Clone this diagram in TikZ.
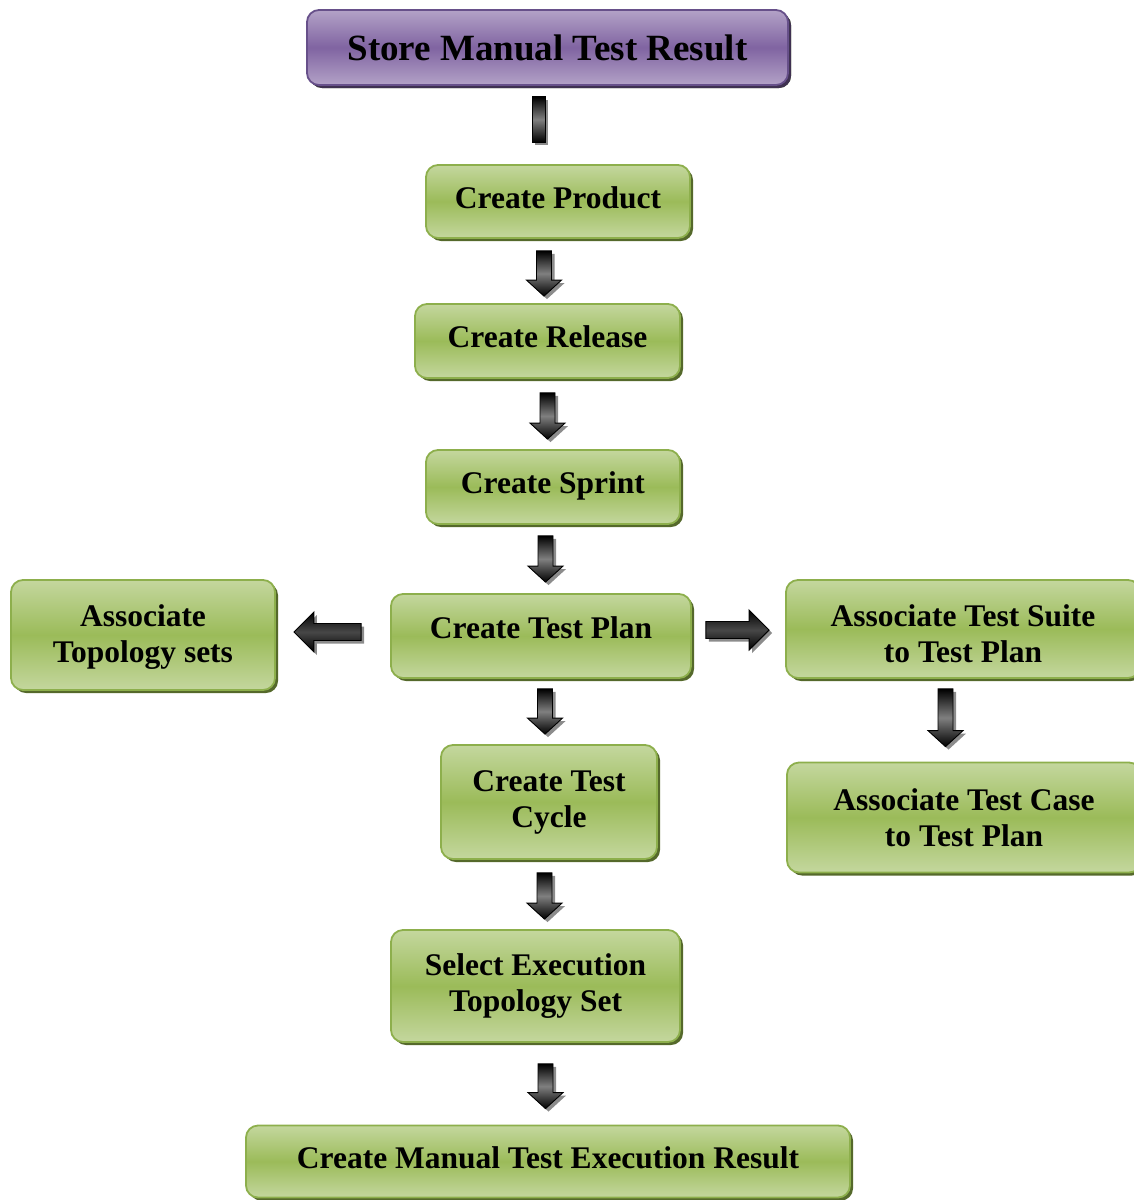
\documentclass[tikz,border=0pt]{standalone}
\usepackage{fontspec}
\setmainfont{Liberation Serif}
\usetikzlibrary{calc,shadows}
\definecolor{gTop}{HTML}{C4D79E}
\definecolor{gMid}{HTML}{9BBB59}
\definecolor{gBorder}{HTML}{8DAF4C}
\definecolor{gShadow}{HTML}{55692B}
\definecolor{pTop}{HTML}{B3A2C7}
\definecolor{pMid}{HTML}{8064A2}
\definecolor{pBorder}{HTML}{67508A}
\definecolor{pShadow}{HTML}{3F3151}
\tikzset{
  gbox/.style={rounded corners=12pt, draw=gBorder, line width=1.8pt,
    top color=gTop, bottom color=gTop, middle color=gMid,
    drop shadow={shadow xshift=3pt, shadow yshift=-3pt, fill=gShadow, opacity=1},
    align=center, inner sep=0pt,
    font=\fontsize{31.5}{36}\selectfont\bfseries},
  oneline/.style={text height=21pt, text depth=8pt},
  pbox/.style={gbox, draw=pBorder, top color=pTop, bottom color=pTop, middle color=pMid,
    drop shadow={shadow xshift=3pt, shadow yshift=-3pt, fill=pShadow, opacity=1},
    font=\fontsize{37}{40}\selectfont\bfseries},
  fatarrow/.style={draw=black, line width=0.9pt, line join=miter,
    top color=black, bottom color=black, middle color=black!50,
    drop shadow={shadow xshift=3pt, shadow yshift=-3pt, fill=black!45, opacity=1}},
  fathoriz/.style={fatarrow, top color=black, bottom color=black, middle color=black!72}
}
% vertical arrow: #1 start (top), #2 end (tip)
\newcommand\fatdown[2]{\path[fatarrow] ($(#1)+(-7.5,0)$) -- ($(#2)+(-7.5,16)$) -- ($(#2)+(-17.5,16)$) -- (#2) -- ($(#2)+(17.5,16)$) -- ($(#2)+(7.5,16)$) -- ($(#1)+(7.5,0)$) -- cycle;}
\newcommand\fatright[2]{\path[fathoriz] ($(#1)+(0,8.5)$) -- ($(#2)+(-20,8.5)$) -- ($(#2)+(-20,20)$) -- (#2) -- ($(#2)+(-20,-20)$) -- ($(#2)+(-20,-8.5)$) -- ($(#1)+(0,-8.5)$) -- cycle;}
\newcommand\fatleft[2]{\path[fathoriz] ($(#1)+(0,8.5)$) -- ($(#2)+(20,8.5)$) -- ($(#2)+(20,20)$) -- (#2) -- ($(#2)+(20,-20)$) -- ($(#2)+(20,-8.5)$) -- ($(#1)+(0,-8.5)$) -- cycle;}
\begin{document}
\begin{tikzpicture}[x=1pt,y=1pt]
\useasboundingbox (0,0) rectangle (1134,-1200);
\node[pbox, minimum width=481pt, minimum height=75pt] (store) at (547.5,-47.5) {Store Manual Test Result};
\node[gbox, oneline, minimum width=264pt, minimum height=73pt] (prod) at (558,-201.5) {Create Product};
\node[gbox, oneline, minimum width=265pt, minimum height=74pt] (rel) at (547.5,-341) {Create Release};
\node[gbox, oneline, minimum width=254pt, minimum height=74pt] (sprint) at (553,-487) {Create Sprint};
\node[gbox, oneline, text depth=16pt, minimum width=300pt, minimum height=84pt] (plan) at (541,-636) {Create Test Plan};
\node[gbox, minimum width=264pt, minimum height=110pt] (topo) at (143,-635) {\strut Associate\\Topology sets};
\node[gbox, minimum width=354pt, minimum height=98pt] (suite) at (963,-629) {\rule{0pt}{31pt}Associate Test Suite\\to Test Plan};
\node[gbox, minimum width=354pt, minimum height=110pt] (case) at (964,-817.5) {Associate Test Case\\to Test Plan};
\node[gbox, minimum width=216pt, minimum height=114pt] (cycle) at (549,-802) {Create Test\\Cycle};
\node[gbox, minimum width=289pt, minimum height=112pt] (select) at (535.5,-986) {Select Execution\\Topology Set};
\node[gbox, oneline, minimum width=604pt, minimum height=72pt] (result) at (548,-1161.5) {Create Manual Test Execution Result};

% connector 1: bar without head
\coordinate (a1s) at ($(store.south)+(-9,-11)$);
\coordinate (a1e) at ($(a1s |- prod.north)+(0,22)$);
\path[fatarrow] ($(a1s)+(-6.5,0)$) rectangle ($(a1e)+(6.5,0)$);

\coordinate (a2s) at ($(prod.south)+(-14,-12)$);
\coordinate (a2e) at ($(a2s |- rel.north)+(0,7)$);
\fatdown{a2s}{a2e}

\coordinate (a3s) at ($(rel.south)+(0,-14)$);
\coordinate (a3e) at ($(a3s |- sprint.north)+(0,10)$);
\fatdown{a3s}{a3e}

\coordinate (a4s) at ($(sprint.south)+(-7.5,-11)$);
\coordinate (a4e) at ($(a4s |- plan.north)+(0,11)$);
\fatdown{a4s}{a4e}

\coordinate (a5s) at ($(plan.south)+(4,-10)$);
\coordinate (a5e) at ($(a5s |- cycle.north)+(0,10)$);
\fatdown{a5s}{a5e}

\coordinate (a6s) at ($(cycle.south)+(-4.5,-13)$);
\coordinate (a6e) at ($(a6s |- select.north)+(0,10)$);
\fatdown{a6s}{a6e}

\coordinate (a7s) at ($(select.south)+(10,-21)$);
\coordinate (a7e) at ($(a7s |- result.north)+(0,16)$);
\fatdown{a7s}{a7e}

\coordinate (a8s) at ($(suite.south)+(-17.5,-10)$);
\coordinate (a8e) at ($(a8s |- case.north)+(0,15)$);
\fatdown{a8s}{a8e}

\coordinate (a9s) at ($(plan.west)+(-29,4)$);
\coordinate (a9e) at ($(a9s -| topo.east)+(18,0)$);
\fatleft{a9s}{a9e}

\coordinate (a10s) at ($(plan.east)+(14,6)$);
\coordinate (a10e) at ($(a10s -| suite.west)+(-16,0)$);
\fatright{a10s}{a10e}
\end{tikzpicture}
\end{document}
